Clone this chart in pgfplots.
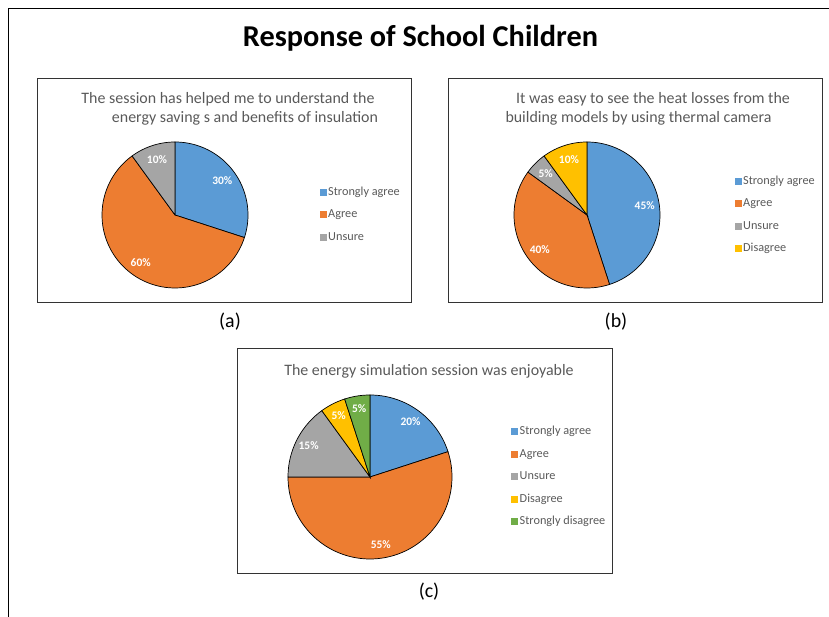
\documentclass[border=0pt]{standalone}
\usepackage{pgfplots}
\pgfplotsset{compat=1.18}
\usepgfplotslibrary{polar}
\usepackage{fontspec}
\setmainfont{Carlito}

\definecolor{xlblue}{HTML}{5B9BD5}
\definecolor{xlorange}{HTML}{ED7D31}
\definecolor{xlgray}{HTML}{A5A5A5}
\definecolor{xlgold}{HTML}{FFC000}
\definecolor{xlgreen}{HTML}{70AD47}
\definecolor{txtgray}{HTML}{595959}

% shared look of the three pies
\pgfplotsset{
  pie/.style={
    scale only axis, hide axis, clip=false,
    ymin=0, ymax=1,
    legend cell align=left,
    legend image code/.code={\fill[##1,draw=none] (0bp,-3.5bp) rectangle (7bp,3.5bp);},
    legend style={draw=none, fill=none, anchor=west, inner sep=0pt,
      font=\fontsize{12.3}{14}\selectfont\color{txtgray},
      row sep=8.5bp, nodes={inner sep=1.5bp, text height=8.5bp, text depth=2.5bp}},
  },
}
\tikzset{lab/.style={font=\bfseries\fontsize{11.5}{13}\selectfont, text=white, inner sep=0pt}}

% #1 = label radius (fraction of r), #2 = list of percent/colour/name, clockwise from the top
\newcommand\pieslices[2]{%
  \gdef\cum{0}%
  \foreach \v/\c/\n in {#2} {%
    \pgfmathsetmacro\a{90-3.6*\cum}%
    \pgfmathsetmacro\b{90-3.6*(\cum+\v)}%
    \pgfmathsetmacro\m{(\a+\b)/2}%
    \edef\temp{%
      \noexpand\addplot[fill=\c, draw=black, line width=0.7bp, domain=\b:\a, samples=80] {1} -- (axis cs:0,0) -- cycle;
      \noexpand\addlegendentry{\n}
      \noexpand\node[lab] at (axis cs:\m,#1) {\v\noexpand\%};
    }%
    \temp
    \pgfmathsetmacro\newcum{\cum+\v}%
    \xdef\cum{\newcum}%
  }%
}

\begin{document}
\begin{tikzpicture}[x=1bp,y=1bp]
\path[use as bounding box] (0,0) rectangle (829,617);
% outer frame (only its top and left edges are in view)
\draw[black, line width=1bp] (8.5,0) -- (8.5,608.5) -- (835,608.5);

\node[font=\bfseries\fontsize{30.4}{36}\selectfont, anchor=base] at (420.5,617-47) {Response of School Children};

% boxes
\draw[black!80, line width=1bp] (37,617-79) rectangle (411,617-303);
\draw[black!80, line width=1bp] (448,617-79) rectangle (822,617-303);
\draw[black!80, line width=1bp] (237,617-349) rectangle (612,617-574);

% chart titles
\begin{scope}[every node/.style={font=\fontsize{16}{19}\selectfont, text=txtgray, anchor=base, inner sep=0pt}]
\node at (228,617-104) {The session has helped me to understand the};
\node at (245,617-123) {energy saving s and benefits of insulation};
\node at (653,617-104) {It was easy to see the heat losses from the};
\node at (638.5,617-123) {building models by using thermal camera};
\node at (429,617-376) {The energy simulation session was enjoyable};
\end{scope}

% sub labels
\begin{scope}[every node/.style={font=\fontsize{20}{24}\selectfont, anchor=base, inner sep=0pt}]
\node at (230,617-328) {(a)};
\node at (616,617-328) {(b)};
\node at (429,617-598) {(c)};
\end{scope}

% pie centres
\coordinate (ca) at (175,617-215);
\coordinate (cb) at (587,617-215);
\coordinate (cc) at (370,617-477);

% (a)
\begin{polaraxis}[pie, width=146bp, height=146bp, at={(ca)}, anchor=center,
  legend style={at={(axis description cs:1.49,0.5)}}]
\pieslices{0.8}{30/xlblue/Strongly agree, 60/xlorange/Agree, 10/xlgray/Unsure}
\end{polaraxis}

% (b)
\begin{polaraxis}[pie, width=146bp, height=146bp, at={(cb)}, anchor=center,
  legend style={at={(axis description cs:1.51,0.5)}}]
\pieslices{0.8}{45/xlblue/Strongly agree, 40/xlorange/Agree, 5/xlgray/Unsure, 10/xlgold/Disagree}
\end{polaraxis}

% (c)
\begin{polaraxis}[pie, width=164bp, height=164bp, at={(cc)}, anchor=center,
  legend style={at={(axis description cs:1.36,0.5)}}]
\pieslices{0.84}{20/xlblue/Strongly agree, 55/xlorange/Agree, 15/xlgray/Unsure, 5/xlgold/Disagree, 5/xlgreen/Strongly disagree}
\end{polaraxis}
\end{tikzpicture}
\end{document}
